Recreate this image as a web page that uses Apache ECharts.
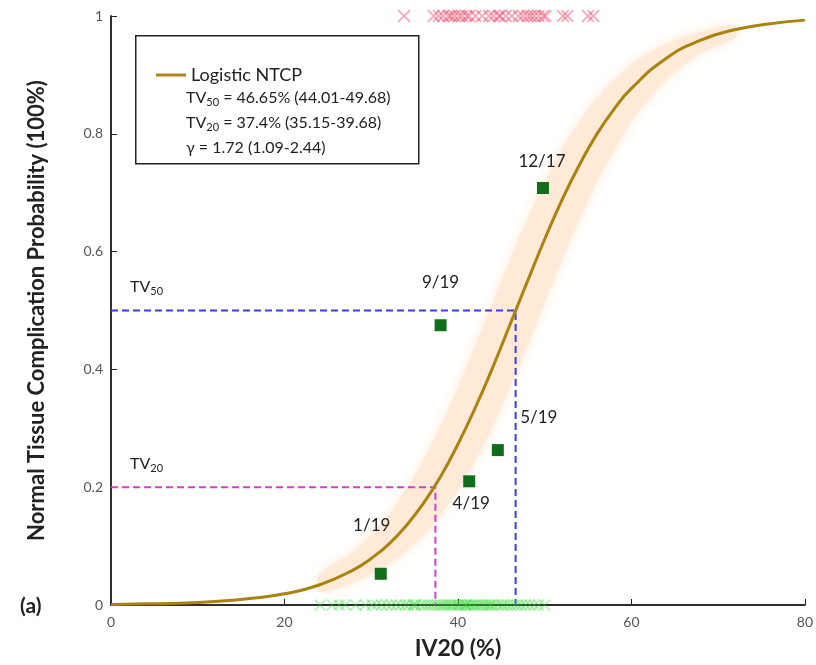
<!DOCTYPE html>
<html>
<head>
<meta charset="utf-8">
<script src="https://cdn.jsdelivr.net/npm/echarts@6/dist/echarts.min.js"></script>
<style>
  html, body { margin: 0; padding: 0; background: #fff; }
  #main { width: 816px; height: 665px; }
</style>
</head>
<body>
<div id="main"></div>
<script>
// fitted logistic curve
var curveX = [0, 4, 8, 12, 16, 20, 24, 28, 30, 32, 34, 36, 38, 40, 42, 44, 46, 48, 50, 52, 54, 56, 58, 60, 64, 68, 72, 76, 80];
var curveY = [0.001, 0.002, 0.003, 0.006, 0.011, 0.019, 0.034, 0.060, 0.079, 0.103, 0.134, 0.172, 0.218, 0.273, 0.335, 0.403, 0.476, 0.549, 0.621, 0.688, 0.747, 0.799, 0.842, 0.877, 0.928, 0.959, 0.977, 0.987, 0.993];

// confidence band
var bandX = [24, 28, 32, 36, 40, 44, 48, 52, 56, 60, 64, 68, 72];
var bandLow = [0.022, 0.039, 0.069, 0.118, 0.194, 0.303, 0.440, 0.586, 0.718, 0.821, 0.892, 0.937, 0.964];
var bandHigh = [0.052, 0.091, 0.152, 0.245, 0.369, 0.513, 0.655, 0.774, 0.861, 0.918, 0.953, 0.973, 0.985];

// observed groups
var ptX = [31.1, 41.3, 44.6, 38.0, 49.8];
var ptY = [0.053, 0.210, 0.263, 0.475, 0.708];
var ptLabels = ['1/19', '4/19', '5/19', '9/19', '12/17'];

// patients with / without complication (rug marks)
var redX = [33.8, 37.2, 37.8, 38.3, 38.9, 39.2, 39.6, 40.1, 40.5, 41.0, 41.3, 42.0, 42.8, 43.6, 44.1, 44.7, 44.9, 45.5, 46.2, 47.0, 47.5, 48.0, 48.4, 48.8, 49.3, 49.8, 50.1, 52.1, 52.6, 55.0, 55.6];
var greenX = [24.1, 25.5, 26.3, 27.0, 28.2, 29.3, 30.1, 30.6, 31.2, 31.8, 32.3, 32.9, 33.4, 33.9, 34.3, 34.8, 35.0, 35.2, 35.7, 36.1, 36.5, 36.9, 37.3, 37.7, 38.0, 38.3, 38.6, 38.9, 39.2, 39.4, 39.7, 40.0, 40.2, 40.5, 40.8, 40.9, 41.0, 41.3, 41.5, 41.8, 42.0, 42.3, 42.6, 42.9, 43.2, 43.5, 43.7, 43.9, 44.2, 44.6, 45.0, 45.3, 45.7, 46.1, 46.5, 46.9, 47.3, 47.8, 48.3, 48.8, 49.3, 50.0];

var tv50 = 46.65;
var tv20 = 37.4;

var xTicks = [0, 20, 40, 60, 80];
var yTicks = [0, 0.2, 0.4, 0.6, 0.8, 1];

var FONT = 'Lato';
var crossPath = 'path://M0,1L1,0L5,4L9,0L10,1L6,5L10,9L9,10L5,6L1,10L0,9L4,5Z';
// label offset from each square (px)
var labelOffsets = [[-9, -48], [2, 22], [41, -33], [0, -43], [-1, -26]];

var myChart = echarts.init(document.getElementById('main'));

// shaded confidence band, drawn as one polygon through the axis scales
function renderBand(params, api) {
  if (params.dataIndex !== 0) return;
  var pts = [];
  for (var i = 0; i < bandX.length; i++) pts.push(api.coord([bandX[i], bandLow[i]]));
  for (var j = bandX.length - 1; j >= 0; j--) pts.push(api.coord([bandX[j], bandHigh[j]]));
  return {
    type: 'polygon',
    shape: { points: pts, smooth: 0.25 },
    style: { fill: '#feead7', shadowBlur: 12, shadowColor: '#feead7' }
  };
}

myChart.setOption({
  animation: false,
  textStyle: { fontFamily: FONT },
  title: {
    text: '(a)', left: 15, top: 591,
    textStyle: { fontFamily: FONT, fontWeight: 'bold', fontSize: 21, color: '#222' }
  },
  grid: { left: 111, right: 9, top: 16, bottom: 59 },
  legend: {
    data: [{ name: 'Logistic NTCP', icon: 'rect' }],
    left: 151, top: 61,
    itemWidth: 30, itemHeight: 3,
    textStyle: { fontFamily: FONT, fontSize: 18, color: '#222' }
  },
  xAxis: [{
    type: 'value', min: 0, max: 80, interval: 20,
    name: 'IV20 (%)', nameLocation: 'middle', nameGap: 32,
    nameTextStyle: { fontFamily: FONT, fontWeight: 'bold', fontSize: 23, color: '#222' },
    axisLine: { lineStyle: { color: '#222', width: 1.5 } },
    axisTick: { inside: true, length: 6, lineStyle: { color: '#222' } },
    axisLabel: { color: '#555', fontSize: 14, margin: 10, customValues: xTicks },
    splitLine: { show: false }
  }, {
    type: 'value', min: 0, max: 80, position: 'top',
    axisLine: { show: true, lineStyle: { color: '#222', width: 1.5 } },
    axisTick: { show: false }, axisLabel: { show: false }, splitLine: { show: false }
  }],
  yAxis: [{
    type: 'value', min: 0, max: 1, interval: 0.2,
    name: 'Normal Tissue Complication Probability (100%)', nameLocation: 'middle', nameGap: 63,
    nameTextStyle: { fontFamily: FONT, fontWeight: 'bold', fontSize: 22, color: '#222' },
    axisLine: { show: true, lineStyle: { color: '#222', width: 1.5 } },
    axisTick: { inside: true, length: 6, lineStyle: { color: '#222' } },
    axisLabel: { color: '#555', fontSize: 14, margin: 8, customValues: yTicks },
    splitLine: { show: false }
  }, {
    type: 'value', min: 0, max: 1, position: 'right',
    axisLine: { show: true, lineStyle: { color: '#222', width: 1.5 } },
    axisTick: { show: false }, axisLabel: { show: false }, splitLine: { show: false }
  }],
  series: [
    {
      name: 'band', type: 'custom', silent: true, z: 1,
      renderItem: renderBand,
      data: bandX.map(function (x, i) { return [x, bandLow[i], bandHigh[i]]; })
    },
    {
      name: 'TV50', type: 'line', symbol: 'none', z: 2,
      lineStyle: { color: '#3b3bef', width: 2, type: [7, 4] },
      data: [[0, 0.5], [tv50, 0.5], [tv50, 0]]
    },
    {
      name: 'TV20', type: 'line', symbol: 'none', z: 2,
      lineStyle: { color: '#d23cd2', width: 2, type: [7, 4] },
      data: [[0, 0.2], [tv20, 0.2], [tv20, 0]]
    },
    {
      name: 'Logistic NTCP', type: 'line', smooth: true, symbol: 'none', z: 3,
      color: '#b08418',
      lineStyle: { color: '#a9820f', width: 3 },
      data: curveX.map(function (x, i) { return [x, curveY[i]]; })
    },
    {
      name: 'groups', type: 'scatter', symbol: 'rect', symbolSize: 12, z: 4,
      itemStyle: { color: '#0f6d1c', opacity: 1 },
      data: ptX.map(function (x, i) {
        return {
          value: [x, ptY[i]],
          label: {
            show: true, position: 'inside', offset: labelOffsets[i],
            formatter: ptLabels[i], color: '#222', fontSize: 17
          }
        };
      })
    },
    {
      name: 'complication', type: 'scatter', symbol: crossPath, symbolSize: 13, z: 5,
      itemStyle: { color: 'rgba(228,30,70,0.38)', opacity: 1 },
      data: redX.map(function (x) { return [x, 1]; })
    },
    {
      name: 'no complication', type: 'scatter', symbol: crossPath, symbolSize: 12, z: 5,
      itemStyle: { color: 'rgba(50,215,50,0.36)', opacity: 1 },
      data: greenX.map(function (x) { return [x, 0]; })
    }
  ],
  graphic: [
    {
      type: 'rect', left: 135, top: 35, z: 10,
      shape: { width: 283, height: 128 },
      style: { fill: 'rgba(255,255,255,0)', stroke: '#222', lineWidth: 1.5 }
    },
    {
      type: 'text', left: 186, top: 88, z: 11,
      style: {
        text: '{n|TV}{s|50}{n| = 46.65% (44.01-49.68)}\n{n|TV}{s|20}{n| = 37.4% (35.15-39.68)}\n{n|γ = 1.72 (1.09-2.44)}',
        rich: {
          n: { fontFamily: FONT, fontSize: 16, fill: '#222', lineHeight: 25 },
          s: { fontFamily: FONT, fontSize: 11, fill: '#222', lineHeight: 25, padding: [9, 0, 0, 0] }
        }
      }
    },
    {
      type: 'text', left: 130, top: 279, z: 11,
      style: {
        text: '{n|TV}{s|50}',
        rich: {
          n: { fontFamily: FONT, fontSize: 16, fill: '#222' },
          s: { fontFamily: FONT, fontSize: 11, fill: '#222', padding: [9, 0, 0, 0] }
        }
      }
    },
    {
      type: 'text', left: 130, top: 456, z: 11,
      style: {
        text: '{n|TV}{s|20}',
        rich: {
          n: { fontFamily: FONT, fontSize: 16, fill: '#222' },
          s: { fontFamily: FONT, fontSize: 11, fill: '#222', padding: [9, 0, 0, 0] }
        }
      }
    }
  ]
});
</script>
</body>
</html>
